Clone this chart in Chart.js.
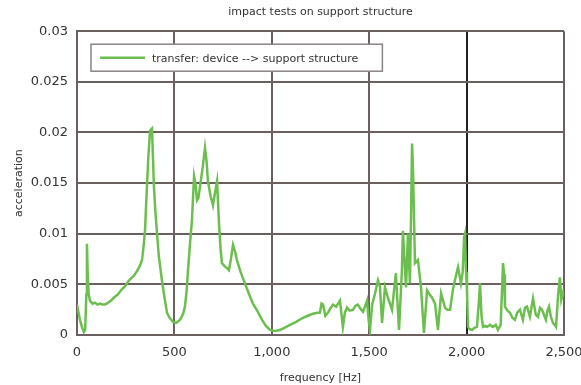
<!DOCTYPE html>
<html>
<head>
<meta charset="utf-8">
<script src="https://cdn.jsdelivr.net/npm/chart.js@4.4.1/dist/chart.umd.min.js"></script>
<style>
  html, body { margin: 0; padding: 0; background: #fff; }
  #wrap { width: 581px; height: 385px; }
</style>
</head>
<body>
<div id="wrap"><canvas id="transfer"></canvas></div>
<script>
/* ============================================================
   DATA
   ============================================================ */

const chartTitle  = 'impact tests on support structure';
const seriesLabel = 'transfer: device --> support structure';
const xTitle      = 'frequency [Hz]';
const yTitle      = 'acceleration';

const xTicks = [0, 500, 1000, 1500, 2000, 2500];
const yTicks = [0, 0.005, 0.01, 0.015, 0.02, 0.025, 0.03];

const freqHz = [
  0, 8, 15, 25, 35, 42, 48, 51, 55, 60,
  67, 80, 92, 105, 118, 130, 144, 160, 175, 190,
  210, 221, 235, 246, 260, 272, 290, 308, 322, 334,
  342, 349, 354, 359, 366, 375, 385, 395, 403, 411,
  420, 436, 450, 462, 475, 493, 510, 529, 545, 554,
  562, 570, 580, 590, 601, 608, 616, 623, 631, 645,
  657, 665, 672, 685, 698, 708, 719, 729, 737, 744,
  757, 770, 780, 790, 801, 812, 821, 840, 862, 882,
  903, 925, 950, 970, 991, 1015, 1042, 1065, 1093, 1125,
  1160, 1185, 1211, 1235, 1247, 1255, 1263, 1275, 1288, 1300,
  1314, 1330, 1350, 1358, 1365, 1375, 1386, 1400, 1417, 1430,
  1442, 1455, 1468, 1478, 1489, 1497, 1504, 1515, 1530, 1545,
  1555, 1566, 1581, 1596, 1617, 1637, 1653, 1668, 1673, 1689,
  1699, 1709, 1715, 1720, 1725, 1735, 1750, 1766, 1781, 1797,
  1810, 1822, 1838, 1853, 1869, 1889, 1900, 1915, 1930, 1940,
  1956, 1971, 1980, 1987, 1992, 1997, 2002, 2007, 2015, 2028,
  2040, 2053, 2062, 2069, 2076, 2084, 2095, 2105, 2120, 2135,
  2150, 2161, 2175, 2187, 2192, 2197, 2210, 2223, 2235, 2248,
  2260, 2274, 2289, 2300, 2310, 2325, 2341, 2355, 2366, 2377,
  2387, 2397, 2407, 2415, 2423, 2433, 2443, 2452, 2459, 2470,
  2479, 2486, 2495, 2500,
];

const accel = [
  0.0030, 0.0022, 0.0015, 0.0008, 0.0003, 0.0005, 0.0040, 0.0090, 0.0060, 0.0040,
  0.0034, 0.0031, 0.0032, 0.0030, 0.0031, 0.0030, 0.0030, 0.0032, 0.0034, 0.0037,
  0.0040, 0.0043, 0.0046, 0.0048, 0.0052, 0.0055, 0.0058, 0.0063, 0.0068, 0.0074,
  0.0088, 0.0103, 0.0125, 0.0146, 0.0175, 0.0202, 0.0204, 0.0146, 0.0120, 0.0100,
  0.0078, 0.0054, 0.0036, 0.0022, 0.0017, 0.0013, 0.0012, 0.0015, 0.0021, 0.0028,
  0.0042, 0.0064, 0.0090, 0.0113, 0.0157, 0.0150, 0.0133, 0.0135, 0.0146, 0.0165,
  0.0185, 0.0172, 0.0152, 0.0138, 0.0128, 0.0140, 0.0152, 0.0110, 0.0085, 0.0071,
  0.0068, 0.0066, 0.0064, 0.0075, 0.0089, 0.0082, 0.0074, 0.0062, 0.0051, 0.0041,
  0.0031, 0.0024, 0.0015, 0.0009, 0.0005, 0.0004, 0.0005, 0.0007, 0.0010, 0.0013,
  0.0017, 0.0019, 0.0021, 0.0022, 0.0022, 0.0031, 0.0030, 0.0019, 0.0022, 0.0026,
  0.0030, 0.0028, 0.0034, 0.0020, 0.0008, 0.0022, 0.0027, 0.0024, 0.0025, 0.0029,
  0.0030, 0.0026, 0.0023, 0.0028, 0.0034, 0.0015, 0.0005, 0.0030, 0.0041, 0.0054,
  0.0048, 0.0012, 0.0047, 0.0037, 0.0025, 0.0061, 0.0005, 0.0064, 0.0103, 0.0047,
  0.0100, 0.0051, 0.0120, 0.0189, 0.0162, 0.0071, 0.0074, 0.0047, 0.0002, 0.0044,
  0.0040, 0.0037, 0.0031, 0.0005, 0.0041, 0.0027, 0.0025, 0.0025, 0.0045, 0.0054,
  0.0067, 0.0051, 0.0062, 0.0096, 0.0100, 0.0062, 0.0044, 0.0008, 0.0006, 0.0005,
  0.0007, 0.0008, 0.0030, 0.0051, 0.0020, 0.0008, 0.0009, 0.0008, 0.0010, 0.0008,
  0.0010, 0.0005, 0.0010, 0.0071, 0.0060, 0.0028, 0.0024, 0.0022, 0.0017, 0.0015,
  0.0022, 0.0025, 0.0015, 0.0027, 0.0028, 0.0018, 0.0036, 0.0020, 0.0018, 0.0027,
  0.0025, 0.0020, 0.0015, 0.0024, 0.0028, 0.0018, 0.0012, 0.0010, 0.0008, 0.0040,
  0.0057, 0.0035, 0.0042, 0.0038,
];

/* ============================================================
   STYLE
   ============================================================ */

const FONT      = "'DejaVu Sans', sans-serif";
const LINE_CLR  = '#6cbf4e';
const GRID_CLR  = '#6a6060';
const TEXT_CLR  = '#333';

Chart.defaults.font.family = FONT;
Chart.defaults.color       = TEXT_CLR;

/** Boxed legend drawn inside the plot, top-left */
const boxedLegend = {
  id: 'boxedLegend',
  afterDatasetsDraw(chart) {
    const { ctx, chartArea: a } = chart;
    const ds = chart.data.datasets[0];
    ctx.save();
    ctx.font = `11px ${FONT}`;
    const tw = ctx.measureText(ds.label).width;
    const x = a.left + 14, y = a.top + 13, h = 27;
    const w = 61 + tw + 24;
    ctx.fillStyle = '#fff';
    ctx.fillRect(x, y, w, h);
    ctx.strokeStyle = '#8a8484';
    ctx.lineWidth = 1.5;
    ctx.strokeRect(x, y, w, h);
    ctx.strokeStyle = ds.borderColor;
    ctx.lineWidth = 2.5;
    ctx.beginPath();
    ctx.moveTo(x + 9, y + h / 2);
    ctx.lineTo(x + 54, y + h / 2);
    ctx.stroke();
    ctx.fillStyle = TEXT_CLR;
    ctx.textBaseline = 'middle';
    ctx.fillText(ds.label, x + 61, y + h / 2 + 1);
    ctx.restore();
  },
};

/* ============================================================
   CHART
   ============================================================ */

new Chart(document.getElementById('transfer'), {
  type: 'line',
  data: {
    datasets: [{
      label: seriesLabel,
      data: freqHz.map((f, i) => ({ x: f, y: accel[i] })),
      borderColor: LINE_CLR,
      borderWidth: 2.5,
      pointRadius: 0,
      tension: 0,
      fill: false,
    }],
  },
  options: {
    responsive: true,
    maintainAspectRatio: false,
    animation: false,
    layout: { padding: { left: 0, right: 17, top: 0, bottom: 0 } },
    plugins: {
      legend: { display: false },
      tooltip: { enabled: false },
      title: {
        display: true,
        text: chartTitle,
        fullSize: false,
        font: { size: 11, weight: 'normal' },
        color: TEXT_CLR,
        padding: { top: 6, bottom: 12 },
      },
    },
    scales: {
      x: {
        type: 'linear',
        min: xTicks[0],
        max: xTicks[xTicks.length - 1],
        afterBuildTicks: s => { s.ticks = xTicks.map(v => ({ value: v })); },
        afterFit: s => { s.height = 50; s.paddingLeft = 0; s.paddingRight = 0; },
        grid: {
          color: c => c.tick && c.tick.value === 2000 ? '#222' : GRID_CLR,
          lineWidth: 2,
          drawTicks: false,
        },
        border: { color: GRID_CLR, width: 2 },
        ticks: { font: { size: 13 }, padding: 10, color: TEXT_CLR, maxRotation: 0 },
        title: {
          display: true,
          text: xTitle,
          font: { size: 11 },
          color: TEXT_CLR,
          padding: { top: 0, bottom: 0 },
        },
      },
      y: {
        min: yTicks[0],
        max: yTicks[yTicks.length - 1],
        afterBuildTicks: s => { s.ticks = yTicks.map(v => ({ value: v })); },
        afterFit: s => { s.width = 77; },
        grid: { color: GRID_CLR, lineWidth: 2, drawTicks: false },
        border: { color: GRID_CLR, width: 2 },
        ticks: {
          font: { size: 13 },
          padding: 9,
          color: TEXT_CLR,
          callback: v => String(+v.toFixed(3)),
        },
        title: {
          display: true,
          text: yTitle,
          font: { size: 11 },
          color: TEXT_CLR,
          padding: { top: 13, bottom: 0 },
        },
      },
    },
  },
  plugins: [boxedLegend],
});
</script>
</body>
</html>
